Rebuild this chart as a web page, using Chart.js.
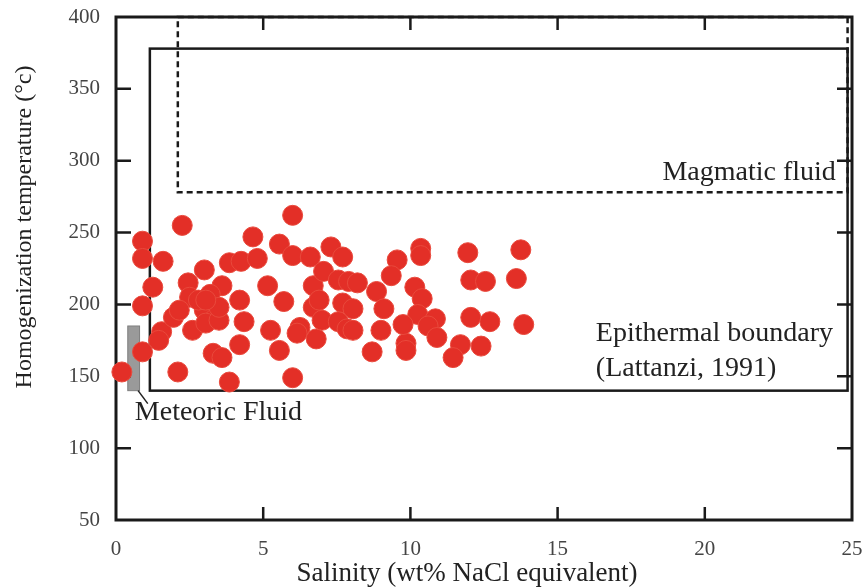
<!DOCTYPE html>
<html>
<head>
<meta charset="utf-8">
<script src="https://cdn.jsdelivr.net/npm/chart.js@4"></script>
<style>
  html, body { margin: 0; padding: 0; background: #fff; }
  #wrap { width: 864px; height: 588px; }
</style>
</head>
<body>
<div id="wrap"><canvas id="chart"></canvas></div>
<script>
// Fluid inclusion data
const salinity = [
  0.2, 0.9, 0.9, 0.9, 0.9, 1.25, 1.6, 2.25, 2.1, 1.55, 1.45, 1.95, 2.45, 3.0, 3.6, 3.85, 4.25,
  2.5, 2.6, 3.0, 3.35, 3.3, 3.6, 3.85, 2.15, 3.05, 3.5, 2.8, 3.2, 3.5, 3.05,
  4.65, 4.8, 6.0, 5.55, 6.0, 6.6, 7.3, 7.7, 5.15, 5.7, 5.25, 5.55, 4.2, 4.35, 4.2, 6.0,
  6.7, 7.05, 7.55, 7.9, 6.7, 6.9, 7.7, 8.05, 6.25, 6.15, 6.8, 7.0, 7.55, 7.85, 8.05,
  8.85, 9.1, 9.0, 8.7, 9.55, 9.35, 8.2,
  10.35, 10.35, 10.15, 10.4, 10.25, 10.85, 10.6, 10.9, 9.85, 9.85, 9.75,
  11.95, 12.05, 12.55, 12.05, 12.7, 11.7, 12.4, 11.45, 13.75, 13.6, 13.85
];
const temperature = [
  153, 244, 232, 199, 167, 212, 230, 255, 153, 181, 175, 191, 215, 224, 213, 229, 230,
  205, 182, 196, 190, 166, 163, 146, 196, 187, 189, 203, 207, 198, 203,
  247, 232, 262, 242, 234, 233, 240, 233, 213, 202, 182, 168, 172, 188, 203, 149,
  213, 223, 217, 216, 198, 203, 201, 197, 184, 180, 176, 189, 188, 183, 182,
  209, 197, 182, 167, 231, 220, 215,
  239, 234, 212, 204, 193, 190, 185, 177, 173, 168, 186,
  236, 217, 216, 191, 188, 172, 171, 163, 238, 218, 186
];

const xTicks = [0, 5, 10, 15, 20, 25];
const yTicks = [50, 100, 150, 200, 250, 300, 350, 400];

// field boxes: [xMin, xMax, yMin, yMax]
const epithermalBox = [1.15, 24.85, 140, 378];
const magmaticBox = [2.1, 24.85, 278, 400];
const meteoricBar = [0.4, 0.8, 140, 185];

const serif = '"Liberation Serif", "DejaVu Serif", serif';

const overlay = {
  id: "overlay",
  beforeDatasetsDraw(chart) {
    const { ctx, chartArea: a, scales: { x, y } } = chart;
    const box = b => [x.getPixelForValue(b[0]), y.getPixelForValue(b[3]),
                      x.getPixelForValue(b[1]), y.getPixelForValue(b[2])];
    ctx.save();

    // meteoric fluid bar
    let [l, t, r, bt] = box(meteoricBar);
    ctx.fillStyle = "#9a9a9a";
    ctx.fillRect(l, t, r - l, bt - t);
    ctx.strokeStyle = "#7f7f7f";
    ctx.lineWidth = 1;
    ctx.strokeRect(l, t, r - l, bt - t);

    // leader line
    ctx.strokeStyle = "#222";
    ctx.lineWidth = 1.5;
    ctx.beginPath();
    ctx.moveTo(x.getPixelForValue(0.75), y.getPixelForValue(140));
    ctx.lineTo(x.getPixelForValue(1.08), y.getPixelForValue(131));
    ctx.stroke();

    // epithermal boundary
    [l, t, r, bt] = box(epithermalBox);
    ctx.strokeStyle = "#1a1a1a";
    ctx.lineWidth = 2.5;
    ctx.strokeRect(l, t, r - l, bt - t);

    // magmatic fluid (dashed)
    [l, t, r, bt] = box(magmaticBox);
    ctx.setLineDash([6, 4]);
    ctx.strokeRect(l, t, r - l, bt - t);
    ctx.setLineDash([]);

    // frame
    ctx.lineWidth = 3;
    ctx.strokeRect(a.left, a.top, a.right - a.left, a.bottom - a.top);

    // inward ticks on all sides
    ctx.lineWidth = 2.5;
    ctx.beginPath();
    xTicks.slice(1, -1).forEach(v => {
      const px = x.getPixelForValue(v);
      ctx.moveTo(px, a.bottom); ctx.lineTo(px, a.bottom - 13);
      ctx.moveTo(px, a.top); ctx.lineTo(px, a.top + 13);
    });
    yTicks.slice(1, -1).forEach(v => {
      const py = y.getPixelForValue(v);
      ctx.moveTo(a.left, py); ctx.lineTo(a.left + 15, py);
      ctx.moveTo(a.right, py); ctx.lineTo(a.right - 15, py);
    });
    ctx.stroke();

    // field labels
    ctx.fillStyle = "#222";
    ctx.font = "28px " + serif;
    ctx.textBaseline = "middle";
    ctx.textAlign = "right";
    ctx.fillText("Magmatic fluid", x.getPixelForValue(24.45), y.getPixelForValue(292));
    ctx.textAlign = "left";
    ctx.fillText("Epithermal boundary", x.getPixelForValue(16.3), y.getPixelForValue(180));
    ctx.fillText("(Lattanzi, 1991)", x.getPixelForValue(16.3), y.getPixelForValue(155.5));
    ctx.fillText("Meteoric Fluid", x.getPixelForValue(0.64), y.getPixelForValue(124.5));

    // axis titles
    ctx.textAlign = "center";
    ctx.font = "27px " + serif;
    ctx.fillText("Salinity (wt% NaCl equivalent)", 467, 574);
    ctx.font = "24px " + serif;
    ctx.translate(25, 227);
    ctx.rotate(-Math.PI / 2);
    ctx.fillText("Homogenization temperature (°c)", 0, 0);
    ctx.restore();
  }
};

new Chart(document.getElementById("chart"), {
  type: "scatter",
  data: {
    datasets: [{
      data: salinity.map((s, i) => ({ x: s, y: temperature[i] })),
      backgroundColor: "#e32f27",
      borderColor: "#e9493c",
      borderWidth: 1,
      pointRadius: 10,
      pointHoverRadius: 10,
      clip: false
    }]
  },
  options: {
    responsive: true,
    maintainAspectRatio: false,
    animation: false,
    events: [],
    layout: { padding: { top: 17, right: 12, left: 0, bottom: 0 } },
    plugins: { legend: { display: false }, tooltip: { enabled: false } },
    scales: {
      x: {
        type: "linear", min: 0, max: 25,
        afterFit: s => { s.height = 68; s.paddingLeft = 0; s.paddingRight = 0; },
        afterBuildTicks: s => { s.ticks = xTicks.map(v => ({ value: v })); },
        grid: { display: false, drawTicks: false },
        border: { display: false },
        ticks: { padding: 17, color: "#444", font: { family: serif, size: 21 } }
      },
      y: {
        type: "linear", min: 50, max: 400,
        afterFit: s => { s.width = 116; s.paddingTop = 0; s.paddingBottom = 0; },
        afterBuildTicks: s => { s.ticks = yTicks.map(v => ({ value: v })); },
        grid: { display: false, drawTicks: false },
        border: { display: false },
        ticks: { padding: 16, color: "#444", font: { family: serif, size: 21 } }
      }
    }
  },
  plugins: [overlay]
});
</script>
</body>
</html>
